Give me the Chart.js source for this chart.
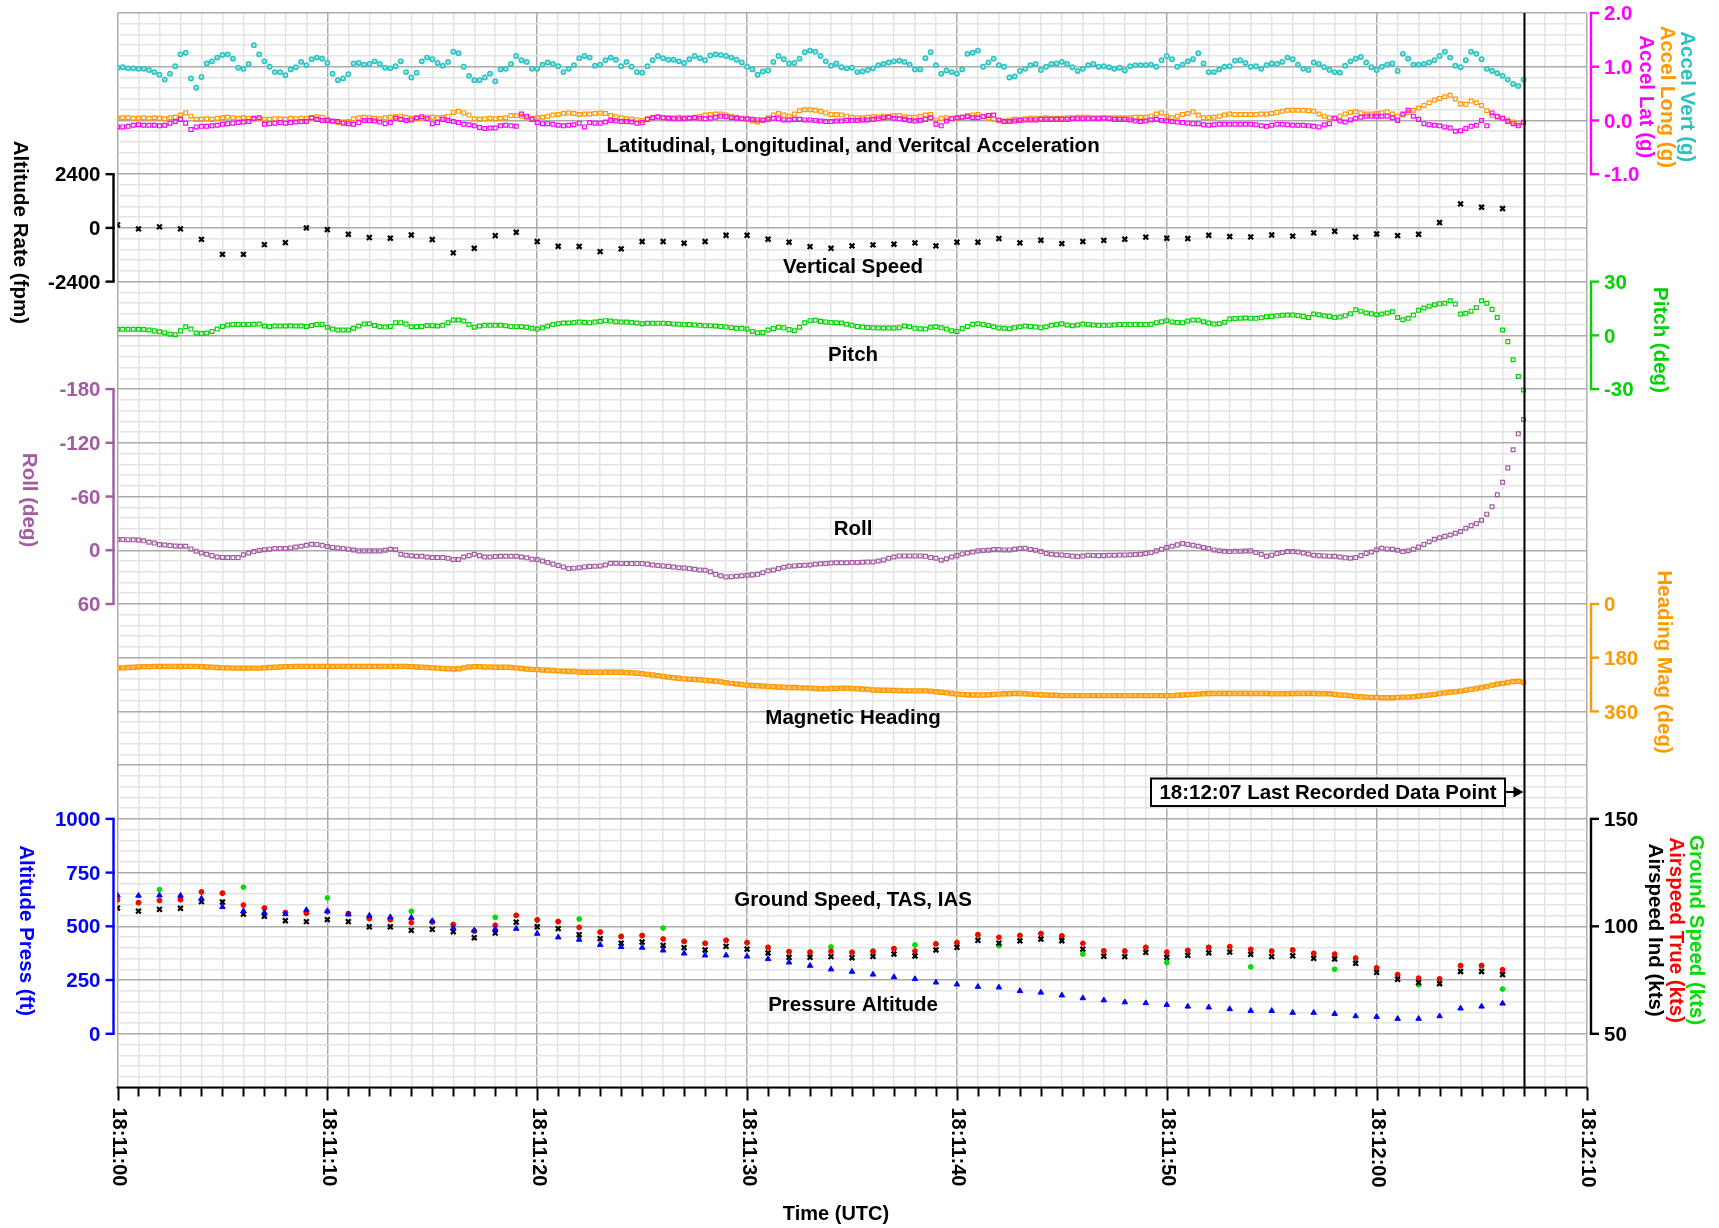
<!DOCTYPE html>
<html><head><meta charset="utf-8">
<script src="https://cdn.jsdelivr.net/npm/chart.js@4/dist/chart.umd.min.js"></script>
<style>html,body{margin:0;padding:0;background:#fff;}canvas{display:block;}</style>
</head><body>
<canvas id="c" width="1719" height="1228" style="width:1719px;height:1228px"></canvas>
<script>
// ---------- DATA (time in seconds after 18:11:00) ----------
const FAST_HZ = 4;   // accel, pitch, roll, heading samples per second
const SLOW_HZ = 1;   // speeds, altitude, vertical speed
const LAST_T = 67;   // 18:12:07 last recorded data point

const accVert = [
0.98,0.99,0.97,0.97, 0.96,0.96,0.94,0.90, 0.85,0.76,0.87,1.01, 1.23,1.26,0.78,0.61,
0.81,1.06,1.10,1.17, 1.22,1.23,1.15,0.98, 0.96,1.05,1.40,1.23, 1.10,1.00,0.90,0.90,
0.84,0.95,0.99,1.09, 1.03,1.14,1.17,1.15, 1.07,0.87,0.75,0.78, 0.86,1.06,1.07,1.04,
1.05,1.10,1.05,0.98, 0.97,1.01,1.10,0.90, 0.80,0.89,1.10,1.17, 1.14,1.07,1.02,1.09,
1.28,1.25,1.00,0.83, 0.75,0.75,0.80,0.87, 0.73,0.95,0.96,1.05, 1.20,1.12,1.09,0.96,
0.96,1.04,1.08,1.05, 1.01,0.90,0.96,1.03, 1.16,1.20,1.17,1.02, 1.04,1.12,1.17,1.13,
1.01,1.09,1.00,0.90, 0.89,1.01,1.12,1.20, 1.16,1.13,1.13,1.10, 1.07,1.14,1.20,1.16,
1.12,1.21,1.23,1.22, 1.20,1.17,1.13,1.08, 1.00,0.95,0.85,0.91, 0.93,1.09,1.20,1.14,
1.06,1.07,1.15,1.27, 1.30,1.28,1.20,1.10, 1.02,1.06,0.99,0.97, 0.98,0.90,0.91,0.94,
0.97,1.03,1.05,1.08, 1.10,1.11,1.09,1.04, 0.95,0.95,1.16,1.27, 1.03,0.87,0.93,0.90,
0.87,0.95,1.24,1.26, 1.30,1.00,1.08,1.15, 1.03,1.00,0.80,0.82, 0.92,0.96,1.03,1.05,
0.94,1.00,1.05,1.06, 1.09,1.05,0.99,0.92, 0.96,1.03,1.05,1.00, 1.01,0.99,0.96,0.98,
0.93,1.01,1.03,1.03, 1.03,1.04,1.00,1.12, 1.20,1.14,1.00,1.04, 1.10,1.14,1.25,1.06,
0.90,0.90,0.95,1.00, 1.01,1.11,1.12,1.07, 1.00,1.01,0.96,1.03, 1.06,1.05,1.09,1.17,
1.14,1.04,0.96,0.94, 1.08,1.05,0.99,0.94, 0.90,0.89,1.02,1.10, 1.15,1.18,1.08,0.99,
0.94,1.00,1.04,1.06, 0.92,1.24,1.15,1.04, 1.04,1.05,1.08,1.12, 1.20,1.28,1.17,1.02,
0.99,1.12,1.28,1.24, 1.14,0.96,0.92,0.88, 0.83,0.76,0.68,0.64, 0.76];

const accLong = [
0.04,0.05,0.05,0.04, 0.04,0.05,0.04,0.05, 0.04,0.03,0.05,0.06, 0.10,0.14,0.08,0.02,
0.02,0.03,0.02,0.04, 0.05,0.06,0.05,0.04, 0.05,0.04,0.02,0.03, 0.02,0.02,0.03,0.03,
0.02,0.04,0.03,0.04, 0.04,0.05,0.07,0.06, 0.02,-0.02,-0.04,-0.03, -0.02,0.03,0.05,0.06,
0.05,0.04,0.03,0.05, 0.06,0.07,0.08,0.06, 0.04,0.03,0.04,0.06, 0.06,0.05,0.06,0.08,
0.15,0.17,0.14,0.10, 0.03,0.02,0.03,0.04, 0.03,0.04,0.05,0.09, 0.09,0.08,0.05,0.04,
0.05,0.06,0.08,0.10, 0.11,0.13,0.14,0.13, 0.11,0.12,0.12,0.13, 0.14,0.13,0.09,0.07,
0.05,0.03,0.02,0.01, 0.00,0.03,0.05,0.06, 0.05,0.05,0.05,0.06, 0.05,0.05,0.06,0.08,
0.10,0.11,0.12,0.12, 0.10,0.08,0.06,0.04, 0.02,-0.01,-0.03,0.00, 0.05,0.10,0.13,0.10,
0.08,0.12,0.18,0.20, 0.20,0.19,0.17,0.14, 0.11,0.11,0.10,0.08, 0.06,0.05,0.05,0.06,
0.07,0.07,0.08,0.08, 0.09,0.09,0.07,0.06, 0.06,0.08,0.10,0.11, 0.01,0.04,0.05,0.04,
0.04,0.06,0.09,0.10, 0.11,0.08,0.04,0.02, 0.00,-0.01,0.01,0.02, 0.02,0.03,0.04,0.04,
0.04,0.05,0.04,0.04, 0.04,0.05,0.05,0.06, 0.06,0.06,0.05,0.05, 0.05,0.05,0.05,0.05,
0.05,0.05,0.06,0.06, 0.06,0.08,0.12,0.14, 0.08,0.05,0.08,0.11, 0.13,0.16,0.10,0.05,
0.05,0.06,0.08,0.10, 0.12,0.11,0.11,0.11, 0.11,0.11,0.12,0.12, 0.13,0.15,0.17,0.19,
0.19,0.19,0.19,0.18, 0.17,0.12,0.08,0.05, 0.04,0.08,0.12,0.15, 0.16,0.14,0.12,0.12,
0.13,0.14,0.16,0.12, 0.08,0.10,0.15,0.19, 0.23,0.28,0.33,0.38, 0.41,0.44,0.47,0.40,
0.31,0.30,0.36,0.33, 0.28,0.18,0.09,0.06, 0.04,0.01,-0.03,-0.06, -0.03];

const accLat = [
-0.12,-0.12,-0.11,-0.09, -0.08,-0.09,-0.09,-0.09, -0.10,-0.09,-0.05,-0.02, 0.02,-0.05,-0.17,-0.12,
-0.11,-0.11,-0.10,-0.09, -0.07,-0.06,-0.05,-0.04, -0.03,-0.02,0.04,0.05, -0.07,-0.06,-0.05,-0.04,
-0.05,-0.04,-0.03,-0.02, -0.02,0.05,0.02,0.00, 0.00,-0.01,-0.02,-0.05, -0.06,-0.07,-0.04,0.00,
0.00,-0.01,-0.03,-0.06, -0.04,0.04,0.02,0.00, 0.01,0.05,0.07,0.03, -0.06,-0.04,0.02,0.00,
-0.02,-0.04,-0.07,-0.08, -0.10,-0.13,-0.15,-0.14, -0.14,-0.10,-0.09,-0.10, -0.11,0.12,0.08,0.02,
-0.04,-0.06,-0.06,-0.07, -0.09,-0.10,-0.09,-0.08, -0.05,-0.12,-0.04,-0.05, -0.05,-0.03,0.00,-0.01,
-0.02,-0.02,-0.03,-0.05, -0.04,0.02,0.05,0.07, 0.05,0.04,0.03,0.03, 0.03,0.04,0.05,0.04,
0.03,0.04,0.06,0.08, 0.07,0.05,0.04,0.03, 0.03,0.02,0.01,0.01, 0.02,0.04,0.03,0.01,
0.01,0.02,0.02,0.01, 0.01,0.00,-0.01,-0.02, -0.02,-0.01,-0.01,0.00, 0.00,0.00,0.01,0.01,
0.02,0.03,0.05,0.06, 0.04,0.03,0.02,0.00, -0.01,0.00,0.02,0.05, -0.07,-0.10,-0.01,0.03,
0.05,0.06,0.07,0.05, 0.05,0.07,0.09,0.10, 0.01,-0.02,-0.02,-0.01, 0.00,0.01,0.01,0.01,
0.02,0.02,0.02,0.02, 0.02,0.02,0.03,0.03, 0.03,0.03,0.03,0.03, 0.04,0.03,0.02,0.02,
0.02,0.01,-0.01,-0.02, -0.01,0.01,0.02,0.00, -0.01,-0.02,-0.03,-0.04, -0.05,-0.06,-0.06,-0.08,
-0.09,-0.08,-0.07,-0.07, -0.07,-0.07,-0.07,-0.07, -0.07,-0.08,-0.10,-0.11, -0.09,-0.07,-0.07,-0.08,
-0.09,-0.09,-0.09,-0.10, -0.11,-0.12,-0.08,-0.06, 0.04,-0.01,-0.03,0.01, 0.04,0.06,0.08,0.08,
0.08,0.08,0.08,0.05, 0.00,0.12,0.19,0.08, 0.02,-0.06,-0.08,-0.09, -0.10,-0.12,-0.14,-0.20,
-0.19,-0.15,-0.11,-0.09, 0.00,-0.10,0.14,0.08, 0.04,-0.02,-0.06,-0.10, -0.04];

const pitch = [
3.4,3.4,3.4,3.4, 3.4,3.3,3.0,2.5, 2.0,1.5,0.6,0.3, 2.5,4.8,3.5,1.3,
1.0,1.3,2.2,3.5, 5.0,5.8,6.1,6.1, 6.1,6.1,6.2,6.3, 5.2,5.0,5.2,5.2,
5.2,5.3,5.2,5.2, 5.0,5.5,6.0,6.1, 4.5,3.5,3.0,3.0, 3.0,4.0,5.2,6.3,
6.5,5.5,4.8,4.6, 5.0,7.1,7.1,6.3, 4.8,4.8,5.0,5.5, 5.4,5.2,5.6,7.0,
8.6,8.6,8.0,6.0, 4.5,5.2,5.6,5.6, 5.6,5.6,5.4,5.0, 4.8,4.8,4.5,4.0,
3.5,4.2,5.2,6.0, 6.5,6.9,6.9,7.2, 7.4,7.3,7.1,7.4, 7.8,8.2,8.0,7.6,
7.4,7.4,7.2,6.9, 6.5,6.7,6.7,6.7, 6.7,6.6,6.4,6.2, 6.0,6.0,5.8,5.6,
5.4,5.4,5.2,5.0, 4.6,4.3,4.0,3.9, 3.6,2.2,1.4,1.6, 3.0,3.8,4.5,4.2,
3.2,2.6,4.5,7.0, 8.2,8.4,7.8,7.5, 7.2,7.0,6.9,6.2, 5.6,5.0,4.6,4.4,
4.2,4.1,4.1,4.1, 4.1,4.3,5.2,4.8, 3.9,3.7,3.5,4.5, 4.8,4.2,3.5,2.6,
2.2,3.8,5.0,6.2, 6.5,6.0,5.5,4.8, 4.1,4.0,3.7,4.2, 4.8,5.2,5.0,4.6,
4.3,4.8,5.6,6.0, 6.5,5.8,5.4,5.8, 6.3,6.1,5.8,5.6, 5.6,5.7,5.8,6.0,
6.0,6.0,6.0,6.0, 6.0,6.2,7.1,7.6, 8.2,7.5,7.2,7.1, 8.0,8.6,8.4,7.6,
6.9,6.3,6.5,7.3, 9.1,9.4,9.6,9.7, 9.6,9.5,9.8,10.4, 10.6,10.9,11.2,11.3,
11.3,11.1,10.6,10.0, 11.9,11.5,10.9,10.6, 10.0,10.2,11.0,12.0, 14.3,13.5,12.5,12.0,
11.5,11.9,12.5,13.2, 10.0,8.7,9.5,11.3, 14.0,15.3,16.3,17.1, 17.6,17.9,19.3,17.5,
11.9,12.3,13.5,15.6, 19.3,17.9,14.5,10.0, 3.0,-3.5,-13.6,-23.0, -30.5];

const roll = [
-11.9,-11.9,-11.8,-11.6, -11.5,-10.5,-9.0,-8.0, -6.3,-5.8,-5.2,-4.8, -4.5,-4.4,-1.5,1.0,
3.0,4.5,6.0,7.5, 8.0,8.2,8.2,8.2, 5.0,3.0,1.5,0.2, -0.5,-1.2,-1.9,-1.9,
-2.0,-2.6,-3.7,-4.5, -5.5,-6.7,-6.5,-5.5, -4.1,-3.2,-2.5,-1.9, -1.2,-0.3,0.7,0.7,
0.7,0.7,0.7,0.0, -1.1,-0.5,4.5,5.6, 6.2,6.7,6.7,7.5, 8.2,8.2,8.2,9.0,
10.4,10.4,7.5,6.0, 4.5,6.0,7.5,7.5, 7.0,6.7,6.7,6.7, 6.7,7.5,8.5,10.0,
10.4,12.0,13.8,15.5, 17.0,18.6,20.5,20.0, 19.5,18.6,18.0,17.9, 17.5,16.5,14.5,14.5,
14.7,14.9,14.9,14.9, 14.9,15.5,16.5,17.0, 17.5,18.0,18.8,19.5, 19.8,20.5,21.2,22.0,
22.4,24.0,26.9,28.5, 29.8,29.5,29.0,28.5, 28.0,27.5,26.9,25.0, 23.0,22.0,20.5,19.0,
17.9,17.5,17.0,16.8, 16.5,15.7,15.2,14.8, 14.2,14.0,14.0,13.9, 13.8,13.6,13.4,13.2,
13.1,12.0,10.8,9.0, 7.5,6.3,6.3,6.3, 6.3,6.3,6.8,8.2, 9.0,11.2,9.5,7.5,
6.0,4.1,3.0,2.0, 0.7,0.2,0.0,-0.7, -0.7,-0.4,-0.4,-1.0, -2.0,-2.2,-0.8,0.0,
1.5,3.7,4.5,5.0, 5.2,5.8,6.5,7.1, 6.5,5.6,5.8,6.0, 6.0,5.6,5.6,5.4,
5.2,5.0,4.8,4.5, 3.7,2.5,0.7,-1.0, -3.0,-4.5,-6.0,-7.5, -6.5,-5.6,-4.5,-3.0,
-2.0,-0.4,0.5,1.2, 1.5,1.2,1.0,0.8, 0.7,2.5,4.5,6.7, 5.5,3.7,2.5,1.5,
1.5,2.0,3.0,4.2, 5.6,6.0,6.3,6.6, 6.7,7.5,8.5,9.0, 8.2,6.0,3.5,1.9,
-0.5,-2.2,-1.5,-1.1, 0.0,1.5,0.5,-1.1, -3.5,-6.5,-9.5,-12.3, -14.0,-15.5,-17.0,-19.0,
-21.0,-24.5,-27.5,-29.8, -33.5,-40.3,-48.5,-62.0, -76.0,-92.0,-112.3,-130.0, -146.0];

const heading = [
214,214,213,212, 211,210,210,209, 209,209,209,209, 209,209,209,209,
210,211,212,213, 214,214,215,215, 215,215,215,215, 214,213,212,211,
210,210,209,209, 209,209,209,209, 209,209,209,209, 209,209,209,209,
209,209,209,209, 209,209,209,209, 210,211,212,213, 214,215,216,217,
218,217,214,211, 210,210,211,211, 212,212,212,213, 214,216,218,219,
220,221,222,223, 224,225,226,226, 228,229,229,229, 229,229,229,229,
229,230,231,232, 234,236,238,240, 243,245,247,249, 251,252,253,254,
256,257,259,261, 264,266,268,270, 272,273,274,275, 276,277,278,279,
280,280,281,281, 282,283,284,284, 283,283,282,282, 283,284,285,286,
288,288,289,289, 290,290,291,291, 291,291,291,292, 294,296,298,300,
302,303,304,305, 305,305,304,303, 302,301,301,300, 300,301,302,303,
304,305,306,306, 307,307,307,307, 307,307,307,307, 307,307,307,307,
307,307,307,307, 307,307,307,307, 307,307,306,305, 304,303,302,301,
300,300,300,300, 300,300,300,300, 300,300,300,300, 301,301,301,301,
300,300,300,300, 300,301,301,301, 303,305,306,308, 310,311,312,313,
313,314,314,314, 313,312,312,311, 309,307,305,303, 300,298,296,294,
292,289,286,283, 280,276,272,268, 266,263,260,259, 262];

const vertSpeed = [130,-45,45,-45,-510,-1180,-1180,-745,-655,0,
-75,-285,-430,-460,-315,-520,-1115,-910,-345,-195,
-610,-820,-830,-1060,-940,-610,-610,-685,-610,-330,
-330,-505,-640,-835,-910,-805,-760,-730,-670,-805,
-640,-640,-475,-670,-550,-700,-610,-560,-505,-415,
-460,-475,-330,-385,-400,-315,-370,-225,-150,-415,
-270,-345,-285,240,1075,925,865];

const altPress = [644,643,644,643,629,590,571,564,557,576,
571,556,550,543,540,525,492,481,488,489,
466,449,438,414,404,401,388,374,365,365,
360,348,332,317,300,289,276,264,255,239,
230,219,216,199,192,179,166,156,147,143,
135,127,123,115,107,107,98,98,93,82,
79,70,70,82,118,127,141];

const gndSpeed = [112.4,111.0,117.1,112.4,116.0,115.4,118.2,108.5,106.4,106.1,
113.2,105.9,103.6,103.1,107.0,102.0,100.8,97.8,104.2,105.1,
103.0,102.2,103.4,97.3,95.3,95.7,99.2,93.0,92.1,93.5,
92.4,90.2,88.2,88.0,90.4,87.9,88.4,89.6,91.3,91.8,
92.4,96.1,91.0,95.7,96.6,95.5,87.1,88.6,88.5,90.2,
83.1,88.8,90.2,90.5,81.1,88.5,89.0,87.4,80.0,85.2,
80.7,77.5,72.8,75.5,81.7,81.7,70.8];

const tas = [112.4,111.0,112.0,112.4,116.0,115.4,109.9,108.5,106.4,106.1,
106.8,105.9,103.6,103.1,101.7,102.0,100.8,97.8,100.5,105.1,
103.0,102.2,99.5,97.3,95.3,95.7,94.1,93.0,92.1,93.5,
92.4,90.2,88.2,88.0,88.4,87.9,88.4,89.6,88.5,91.8,
92.4,96.1,94.9,95.7,96.6,95.5,92.1,88.6,88.5,90.2,
88.0,88.8,90.2,90.5,89.3,88.5,89.0,87.4,87.1,85.2,
80.7,77.5,75.9,75.5,81.7,81.7,79.8];

const ias = [108.5,107.1,107.9,108.4,111.5,111.3,105.7,104.7,102.6,102.2,
103.1,102.2,99.8,99.8,98.1,98.6,97.5,94.7,96.9,101.9,
99.8,98.9,96.1,94.3,92.2,92.7,91.1,90.1,89.0,90.7,
89.4,87.6,85.6,85.6,85.9,85.4,86.0,87.1,86.2,89.0,
90.2,93.5,92.2,93.2,94.1,93.3,89.4,86.1,85.9,87.9,
85.6,86.5,87.7,88.0,87.0,85.9,86.3,85.1,84.8,82.8,
78.6,75.3,73.8,73.3,79.0,79.0,77.5];

// ---------- TICKS / LABELS ----------
const xTickSec = [0,10,20,30,40,50,60,70];
const xTickLabels = ['18:11:00','18:11:10','18:11:20','18:11:30','18:11:40','18:11:50','18:12:00','18:12:10'];
const accTicks = [2,1,0,-1];           const accTickLabels = ['2.0','1.0','0.0','-1.0'];
const vsTicks = [2400,0,-2400];        const vsTickLabels = ['2400','0','-2400'];
const pitchTicks = [30,0,-30];         const pitchTickLabels = ['30','0','-30'];
const rollTicks = [-180,-120,-60,0,60];const rollTickLabels = ['-180','-120','-60','0','60'];
const hdgTicks = [0,180,360];          const hdgTickLabels = ['0','180','360'];
const altTicks = [1000,750,500,250,0]; const altTickLabels = ['1000','750','500','250','0'];
const spdTicks = [150,100,50];         const spdTickLabels = ['150','100','50'];

const COL = {cyan:'#2BC2C2', orange:'#FF9900', magenta:'#FF00FF', green:'#00D400',
  purple:'#A35AA3', blue:'#0000FF', red:'#FF0000', gs:'#00DD00', black:'#000000'};
const FONT = '"Liberation Sans", Arial, Helvetica, sans-serif';
const MAJOR = '#ABABAB', MINOR = '#E4E4E4';

function ser(arr, hz){ return arr.map((v,i)=>({x:i/hz, y:v})); }
function pts(style, r, bw, border, bg, extra){ return Object.assign({pointStyle:style, pointRadius:r, pointHoverRadius:r,
  pointBorderWidth:bw, pointBorderColor:border, pointBackgroundColor:bg, borderColor:border, backgroundColor:bg, showLine:false}, extra||{}); }

const datasets = [
  Object.assign({label:'Vertical Speed', data:ser(vertSpeed,SLOW_HZ), yAxisID:'yVS', order:1}, pts('crossRot',3.4,2.2,'#000','#000')),
  Object.assign({label:'Accel Lat', data:ser(accLat,FAST_HZ), yAxisID:'yAcc', order:3}, pts('rect',2.7,1.2,COL.magenta,'rgba(255,255,255,0)')),
  Object.assign({label:'Accel Long', data:ser(accLong,FAST_HZ), yAxisID:'yAcc', order:4}, pts('rect',2.7,1.2,COL.orange,'rgba(255,255,255,0)')),
  Object.assign({label:'Accel Vert', data:ser(accVert,FAST_HZ), yAxisID:'yAcc', order:2}, pts('circle',2.2,1.5,COL.cyan,'#9FE6E6')),
  Object.assign({label:'Pitch', data:ser(pitch,FAST_HZ), yAxisID:'yPitch', order:5}, pts('rect',2.7,1.2,COL.green,'rgba(255,255,255,0)')),
  Object.assign({label:'Roll', data:ser(roll,FAST_HZ), yAxisID:'yRoll', order:6}, pts('rect',2.7,1.2,COL.purple,'rgba(255,255,255,0)')),
  Object.assign({label:'Heading Mag', data:ser(heading,FAST_HZ), yAxisID:'yHdg', order:7}, pts('rect',2.9,1.3,COL.orange,'#FFC46A')),
  Object.assign({label:'Pressure Altitude', data:ser(altPress,SLOW_HZ), yAxisID:'yAlt', order:8}, pts('triangle',3.2,1,COL.blue,COL.blue)),
  Object.assign({label:'Airspeed Ind', data:ser(ias,SLOW_HZ), yAxisID:'ySpd', order:9}, pts('crossRot',3.4,2.2,'#000','#000')),
  Object.assign({label:'Airspeed True', data:ser(tas,SLOW_HZ), yAxisID:'ySpd', order:10}, pts('circle',2.4,1,COL.red,COL.red)),
  Object.assign({label:'Ground Speed', data:ser(gndSpeed,SLOW_HZ), yAxisID:'ySpd', order:11}, pts('circle',2.4,1,COL.gs,COL.gs))
];

function hidden(min,max,reverse){ return {type:'linear', display:false, min:min, max:max, reverse:!!reverse}; }

const axisDecor = [
  {id:'yAcc', side:'R', ticks:accTicks, labels:accTickLabels, color:COL.magenta},
  {id:'yVS', side:'L', ticks:vsTicks, labels:vsTickLabels, color:'#000'},
  {id:'yPitch', side:'R', ticks:pitchTicks, labels:pitchTickLabels, color:COL.green},
  {id:'yRoll', side:'L', ticks:rollTicks, labels:rollTickLabels, color:COL.purple},
  {id:'yHdg', side:'R', ticks:hdgTicks, labels:hdgTickLabels, color:COL.orange},
  {id:'yAlt', side:'L', ticks:altTicks, labels:altTickLabels, color:COL.blue},
  {id:'ySpd', side:'R', ticks:spdTicks, labels:spdTickLabels, color:'#000'}
];
const axisTitles = [
  {id:'yVS', at:-200, dx:-98, lines:[['Altitude Rate (fpm)','#000']]},
  {id:'yRoll', at:-56, dx:-89, lines:[['Roll (deg)',COL.purple]]},
  {id:'yAlt', at:480, dx:-91.5, lines:[['Altitude Press (ft)',COL.blue]]},
  {id:'yAcc', at:0.44, dx:100.5, lines:[['Accel Vert (g)',COL.cyan],['Accel Long (g)',COL.orange],['Accel Lat (g)',COL.magenta]]},
  {id:'yPitch', at:-2.6, dx:73.3, lines:[['Pitch (deg)',COL.green]]},
  {id:'yHdg', at:195, dx:77.2, lines:[['Heading Mag (deg)',COL.orange]]},
  {id:'ySpd', at:98.2, dx:109.5, lines:[['Ground Speed (kts)',COL.gs],['Airspeed True (kts)',COL.red],['Airspeed Ind (kts)','#000']]}
];
const panelLabels = [
  {text:'Latitudinal, Longitudinal, and Veritcal Acceleration', id:'yAcc', v:-0.48},
  {text:'Vertical Speed', id:'yVS', v:-1760},
  {text:'Pitch', id:'yPitch', v:-11},
  {text:'Roll', id:'yRoll', v:-23},
  {text:'Magnetic Heading', id:'yHdg', v:383},
  {text:'Ground Speed, TAS, IAS', id:'ySpd', v:112.2},
  {text:'Pressure Altitude', id:'yAlt', v:130}
];

const decor = {
  id:'decor',
  afterDatasetsDraw(chart){
    const ctx = chart.ctx, ca = chart.chartArea, S = chart.scales;
    ctx.save();
    // last data point vertical line
    const xl = Math.round(S.x.getPixelForValue(LAST_T)) + 0.5;
    ctx.strokeStyle = '#000'; ctx.lineWidth = 2;
    ctx.beginPath(); ctx.moveTo(xl, ca.top); ctx.lineTo(xl, ca.bottom); ctx.stroke();
    // bottom axis line + tick marks
    ctx.lineWidth = 2;
    ctx.beginPath(); ctx.moveTo(ca.left-1, ca.bottom); ctx.lineTo(ca.right+1, ca.bottom); ctx.stroke();
    for (let s = 0; s <= 70; s++) {
      const px = Math.round(S.x.getPixelForValue(s)) + 0.5;
      ctx.beginPath(); ctx.moveTo(px, ca.bottom); ctx.lineTo(px, ca.bottom + (s % 10 === 0 ? 13 : 9)); ctx.stroke();
    }
    // x tick labels (rotated)
    ctx.fillStyle = '#000'; ctx.font = 'bold 20px ' + FONT;
    ctx.textAlign = 'left'; ctx.textBaseline = 'middle';
    xTickSec.forEach((s,i)=>{
      const px = S.x.getPixelForValue(s);
      ctx.save(); ctx.translate(px+1, ca.bottom + 20); ctx.rotate(Math.PI/2);
      ctx.fillText(xTickLabels[i], 0, 0); ctx.restore();
    });
    ctx.textAlign = 'center';
    ctx.font = 'bold 20px ' + FONT;
    ctx.fillText('Time (UTC)', (ca.left+ca.right)/2 - 16, ca.bottom + 127);
    // y brackets, ticks and labels
    axisDecor.forEach(a=>{
      const sc = S[a.id];
      const bx = a.side === 'L' ? ca.left - 4 : ca.right + 4.5;
      const dir = a.side === 'L' ? -1 : 1;
      const ys = a.ticks.map(v=>sc.getPixelForValue(v));
      ctx.strokeStyle = a.color; ctx.fillStyle = a.color; ctx.lineWidth = 2.4;
      ctx.beginPath(); ctx.moveTo(bx, Math.min(...ys)); ctx.lineTo(bx, Math.max(...ys)); ctx.stroke();
      ctx.font = 'bold 20.5px ' + FONT; ctx.textBaseline = 'middle';
      ctx.textAlign = a.side === 'L' ? 'right' : 'left';
      ys.forEach((y,i)=>{
        ctx.beginPath(); ctx.moveTo(bx - dir*1.2, y); ctx.lineTo(bx + dir*8, y); ctx.stroke();
        ctx.fillText(a.labels[i], bx + dir*13, y + 1.5);
      });
    });
    // axis titles (rotated clockwise); first line is the outermost column
    ctx.font = 'bold 20.5px ' + FONT; ctx.textAlign = 'center'; ctx.textBaseline = 'middle';
    axisTitles.forEach(t=>{
      const y = S[t.id].getPixelForValue(t.at);
      const base = t.dx < 0 ? ca.left + t.dx : ca.right + t.dx;
      t.lines.forEach((ln,i)=>{
        ctx.save(); ctx.translate(base - i*20.8, y); ctx.rotate(Math.PI/2);
        ctx.fillStyle = ln[1]; ctx.fillText(ln[0], 0, 0); ctx.restore();
      });
    });
    // panel labels
    ctx.fillStyle = '#000'; ctx.font = 'bold 20.5px ' + FONT;
    const cx = S.x.getPixelForValue(35.05);
    panelLabels.forEach(p=>{ ctx.fillText(p.text, cx, S[p.id].getPixelForValue(p.v)); });
    // last recorded annotation
    const gy = S.g.getPixelForValue(72.5);
    const bx1 = xl - 373.5, bx2 = xl - 19.5;
    ctx.fillStyle = '#fff'; ctx.fillRect(bx1, gy-13.5, bx2-bx1, 27.5);
    ctx.strokeStyle = '#000'; ctx.lineWidth = 2; ctx.strokeRect(bx1, gy-13.5, bx2-bx1, 27.5);
    ctx.fillStyle = '#000'; ctx.font = 'bold 20.5px ' + FONT; ctx.textAlign = 'center';
    ctx.fillText('18:12:07 Last Recorded Data Point', (bx1+bx2)/2, gy + 1);
    ctx.beginPath(); ctx.moveTo(bx2, gy); ctx.lineTo(xl-9, gy); ctx.stroke();
    ctx.beginPath(); ctx.moveTo(xl-1, gy); ctx.lineTo(xl-11, gy-5.5); ctx.lineTo(xl-11, gy+5.5); ctx.closePath(); ctx.fill();
    ctx.restore();
  }
};

new Chart(document.getElementById('c'), {
  type:'scatter',
  data:{datasets},
  options:{
    responsive:false, devicePixelRatio:1, animation:false,
    layout:{padding:{left:117.5, right:132.5, top:13, bottom:140.5}},
    plugins:{legend:{display:false}, tooltip:{enabled:false}, title:{display:false}},
    scales:{
      x:{type:'linear', position:'bottom', min:0, max:70,
        ticks:{display:false, stepSize:1, autoSkip:false},
        afterBuildTicks:(s)=>{ s.ticks = Array.from({length:71},(_,i)=>({value:i})); },
        grid:{drawTicks:false, color:(c)=> (c.tick && c.tick.value % 10 === 0) ? MAJOR : MINOR, lineWidth:1.5},
        border:{display:false}},
      g:{type:'linear', position:'left', min:0, max:100, reverse:true,
        ticks:{display:false, stepSize:1, autoSkip:false},
        afterBuildTicks:(s)=>{ s.ticks = Array.from({length:101},(_,i)=>({value:i})); },
        grid:{drawTicks:false, color:(c)=> (c.tick && c.tick.value % 5 === 0) ? MAJOR : MINOR, lineWidth:1.5},
        border:{display:false}},
      yAcc: hidden(-18, 2),
      yVS: hidden(-38400, 9600),
      yPitch: hidden(-420, 180),
      yRoll: hidden(-600, 600, true),
      yHdg: hidden(-1980, 1620, true),
      yAlt: hidden(-250, 4750),
      ySpd: hidden(25, 525)
    }
  },
  plugins:[decor]
});
</script>
</body></html>
